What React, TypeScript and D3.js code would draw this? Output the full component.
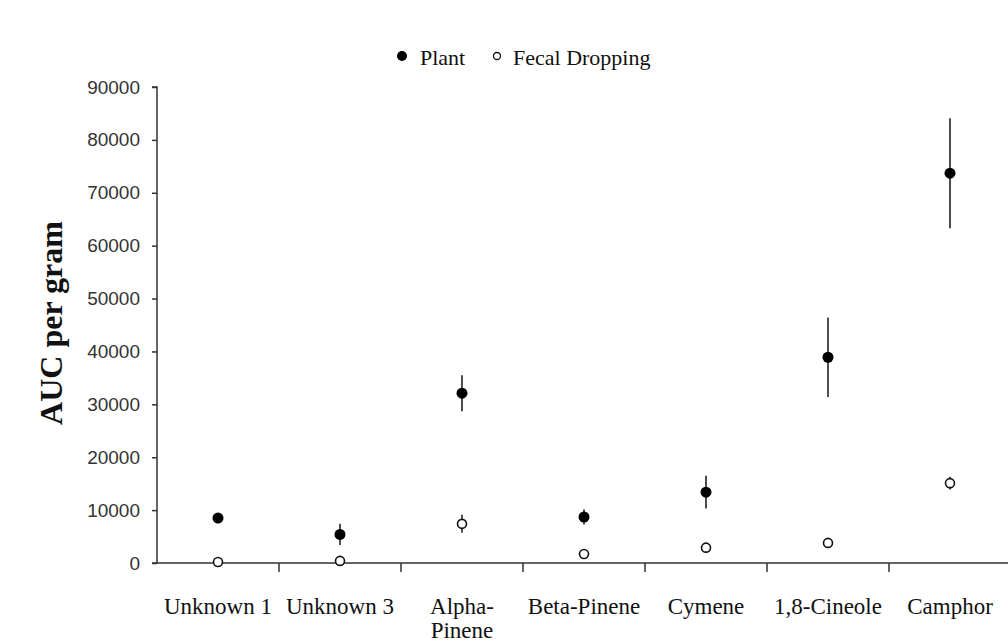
import React, { useEffect, useRef } from 'react';
import * as d3 from 'd3';

// categories along the x axis (\n = line break)
const categories = ['Unknown 1', 'Unknown 3', 'Alpha-\nPinene', 'Beta-Pinene', 'Cymene', '1,8-Cineole', 'Camphor'];

// Plant series: mean and error (+/-)
const plantMean = [8500, 5400, 32100, 8700, 13400, 38900, 73700];
const plantErr = [500, 2000, 3400, 1400, 3100, 7500, 10400];

// Fecal Dropping series: mean and error (+/-)
const fecalMean = [200, 400, 7400, 1700, 2900, 3800, 15100];
const fecalErr = [100, 200, 1700, 300, 400, 300, 1200];

const yTicks = [0, 10000, 20000, 30000, 40000, 50000, 60000, 70000, 80000, 90000];

const App = () => {
  const ref = useRef<SVGSVGElement | null>(null);

  useEffect(() => {
    const svg = d3.select(ref.current);
    svg.selectAll('*').remove();

    const left = 157;
    const band = 122;
    const x = d3.scaleBand<string>()
      .domain(categories)
      .range([left, left + band * categories.length])
      .paddingInner(0)
      .paddingOuter(0);
    const y = d3.scaleLinear().domain([0, 90000]).range([563, 87]);

    // y axis
    const yAxis = svg.append('g')
      .attr('transform', `translate(${left},0)`)
      .call(d3.axisLeft(y).tickValues(yTicks).tickSize(5).tickPadding(12).tickFormat(d3.format('d')));
    yAxis.select('.domain').attr('stroke', '#333').attr('stroke-width', 1.5).attr('d', `M-5,${y(90000)}H0V${y(0)}`);
    yAxis.selectAll('.tick line').attr('stroke', '#333').attr('stroke-width', 1.5);
    yAxis.selectAll('.tick text')
      .attr('fill', '#333')
      .style('font-family', 'Liberation Sans, Arial, sans-serif')
      .style('font-size', '19px');

    // x axis baseline + boundary ticks
    svg.append('line')
      .attr('x1', left - 5).attr('x2', 1008)
      .attr('y1', y(0)).attr('y2', y(0))
      .attr('stroke', '#333').attr('stroke-width', 1.5);
    svg.append('g')
      .selectAll('line')
      .data(categories.slice(1))
      .enter()
      .append('line')
      .attr('x1', d => x(d)!)
      .attr('x2', d => x(d)!)
      .attr('y1', y(0))
      .attr('y2', y(0) + 9)
      .attr('stroke', '#333')
      .attr('stroke-width', 1.5);

    // x labels
    const xl = svg.append('g')
      .selectAll('text')
      .data(categories)
      .enter()
      .append('text')
      .attr('x', d => x(d)! + x.bandwidth() / 2)
      .attr('y', 614)
      .attr('text-anchor', 'middle')
      .style('font-family', 'Liberation Serif, Times New Roman, serif')
      .style('font-size', '23px')
      .attr('fill', '#111');
    xl.each(function (d) {
      const t = d3.select(this);
      d.split('\n').forEach((line, i) => {
        t.append('tspan')
          .attr('x', x(d)! + x.bandwidth() / 2)
          .attr('dy', i === 0 ? 0 : 24)
          .text(line);
      });
    });

    // y label
    svg.append('text')
      .attr('transform', `translate(62,323) rotate(-90)`)
      .attr('text-anchor', 'middle')
      .style('font-family', 'Liberation Serif, Times New Roman, serif')
      .style('font-size', '32px')
      .style('font-weight', 'bold')
      .attr('fill', '#111')
      .text('AUC per gram');

    const cx = (i: number) => x(categories[i])! + x.bandwidth() / 2;

    // error bars
    const drawErr = (mean: number[], err: number[]) => {
      svg.append('g')
        .selectAll('line')
        .data(mean)
        .enter()
        .append('line')
        .attr('x1', (_d, i) => cx(i))
        .attr('x2', (_d, i) => cx(i))
        .attr('y1', (d, i) => y(d + err[i]))
        .attr('y2', (d, i) => y(d - err[i]))
        .attr('stroke', '#222')
        .attr('stroke-width', 1.6);
    };
    drawErr(plantMean, plantErr);
    drawErr(fecalMean, fecalErr);

    // points
    svg.append('g')
      .selectAll('circle')
      .data(plantMean)
      .enter()
      .append('circle')
      .attr('cx', (_d, i) => cx(i))
      .attr('cy', d => y(d))
      .attr('r', 5.5)
      .attr('fill', '#000');
    svg.append('g')
      .selectAll('circle')
      .data(fecalMean)
      .enter()
      .append('circle')
      .attr('cx', (_d, i) => cx(i))
      .attr('cy', d => y(d))
      .attr('r', 4.5)
      .attr('fill', '#fff')
      .attr('stroke', '#111')
      .attr('stroke-width', 1.6);

    // legend
    const lg = svg.append('g');
    lg.append('circle').attr('cx', 402).attr('cy', 56).attr('r', 5).attr('fill', '#000');
    lg.append('text').attr('x', 420).attr('y', 65).text('Plant');
    lg.append('circle').attr('cx', 497).attr('cy', 56).attr('r', 3.5)
      .attr('fill', '#fff').attr('stroke', '#111').attr('stroke-width', 1.3);
    lg.append('text').attr('x', 513).attr('y', 65).text('Fecal Dropping');
    lg.selectAll('text')
      .style('font-family', 'Liberation Serif, Times New Roman, serif')
      .style('font-size', '22px')
      .attr('fill', '#111');
  }, []);

  return (
    <svg
      ref={ref}
      width={1008}
      height={643}
      style={{ position: 'absolute', left: 0, top: 0, background: '#fff' }}
    />
  );
};

export default App;
